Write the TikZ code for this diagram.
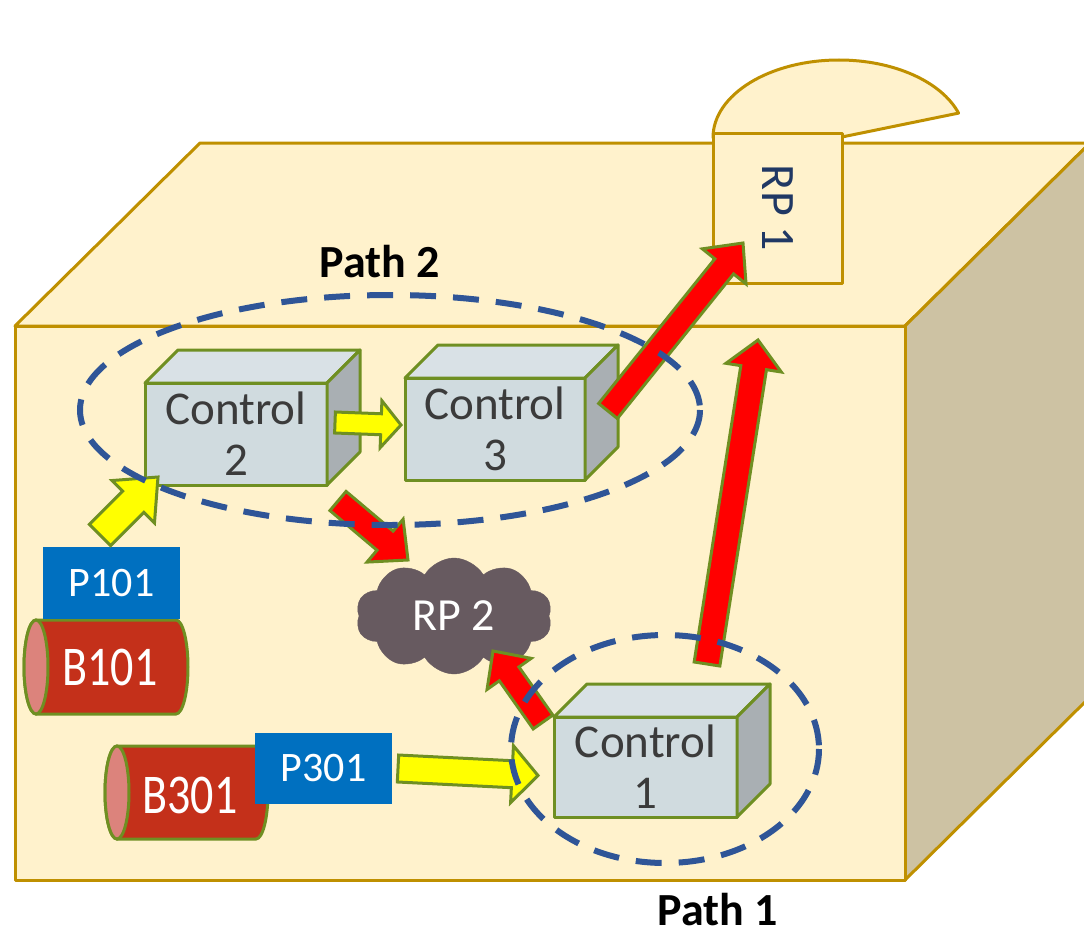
\documentclass[tikz,border=0pt]{standalone}
\usepackage{fontspec}
\usepackage{graphicx}
\setmainfont{Carlito}
\usetikzlibrary{calc,shapes.symbols}

\definecolor{boxcream}{HTML}{FFF2CC}
\definecolor{boxside}{HTML}{CDC2A3}
\definecolor{boxedgec}{HTML}{BF9000}
\definecolor{rpblue}{HTML}{203864}
\definecolor{cubefrontc}{HTML}{D0DBDF}
\definecolor{cubetopc}{HTML}{D9E1E6}
\definecolor{cubesidec}{HTML}{A9AFB3}
\definecolor{leafgreen}{HTML}{6F8F22}
\definecolor{labelgray}{HTML}{3B3B3B}
\definecolor{ringblue}{HTML}{2F5597}
\definecolor{drumred}{HTML}{C4301A}
\definecolor{drumend}{HTML}{DC837C}
\definecolor{tagblue}{HTML}{0070C0}
\definecolor{smoke}{HTML}{675A60}
\definecolor{flowyellow}{HTML}{FFFF00}
\definecolor{flowred}{HTML}{FF0000}

\tikzset{
  boxedge/.style={draw=boxedgec, line width=3pt, line join=round},
  cubeedge/.style={draw=leafgreen, line width=3pt, line join=round},
  cubefront/.style={rectangle, cubeedge, fill=cubefrontc, inner sep=0pt, outer sep=0pt,
    align=center, text=labelgray, font=\fontsize{47}{51}\selectfont},
  arrowedge/.style={draw=leafgreen, line width=3pt, line join=miter},
  drumedge/.style={draw=leafgreen, line width=3pt},
  drumtext/.style={text=white, font=\fontsize{46}{46}\selectfont, inner sep=0pt},
  tag/.style={rectangle, fill=tagblue, text=white, inner sep=0pt, outer sep=0pt,
    font=\fontsize{42}{42}\selectfont},
  ring/.style={draw=ringblue, line width=6pt, dash pattern=on 26pt off 17pt},
  pathlabel/.style={font=\fontsize{46}{46}\selectfont\bfseries, text=black, inner sep=0pt},
}

% block arrow: fill, tail, tip, half shaft width, half head width, head length
\newcommand{\flowarrow}[6]{%
  \coordinate (headbase) at ($(#3)!#6!(#2)$);
  \draw[arrowedge, fill=#1]
    ($(#2)!#4!90:(#3)$) -- ($(headbase)!#4!-90:(#2)$) -- ($(headbase)!#5!-90:(#2)$) -- (#3)
    -- ($(headbase)!#5!90:(#2)$) -- ($(headbase)!#4!90:(#2)$) -- ($(#2)!#4!-90:(#3)$) -- cycle;
}

% control unit drawn as a box: name, centre, width, height, number
\newcommand{\controlcube}[5]{%
  \node[cubefront, minimum width=#3, minimum height=#4] (#1) at (#2) {Control\\#5};
  \draw[cubeedge, fill=cubetopc] (#1.north west) -- ++(33,-33)
    -- ($(#1.north east)+(33,-33)$) -- (#1.north east) -- cycle;
  \draw[cubeedge, fill=cubesidec] (#1.north east) -- ++(33,-33)
    -- ($(#1.south east)+(33,-33)$) -- (#1.south east) -- cycle;
}

% horizontal drum: left, top, right, bottom
\newcommand{\drum}[4]{%
  \draw[drumedge, fill=drumred] ({#1+12},#2) -- ({#3-12},#2)
    arc[start angle=-90, end angle=90, x radius=12, y radius={(#4-#2)/2}]
    -- ({#1+12},#4)
    arc[start angle=90, end angle=270, x radius=12, y radius={(#4-#2)/2}] -- cycle;
  \draw[drumedge, fill=drumend] ({#1+12},{(#2+#4)/2}) ellipse[x radius=12, y radius={(#4-#2)/2}];
}

% tall lettering used on the drums
\newcommand{\tallword}[1]{\scalebox{1}[1.22]{#1}}

\begin{document}
\begin{tikzpicture}[x=1pt, y=-1pt]
\useasboundingbox (0,0) rectangle (1084,934);
\clip (0,0) rectangle (1084,934);

% enclosing building
\draw[boxedge, fill=boxcream] (15,326) -- (200,143) -- (1090,143) -- (905,326) -- cycle;
\draw[boxedge, fill=boxside] (905,326) -- (1090,143) -- (1090,697) -- (905,880) -- cycle;
\draw[boxedge, fill=boxcream] (15,326) rectangle (905,880);

% release point 1 on the roof
\draw[boxedge, fill=boxcream] (713,137.6)
  arc[start angle=180, end angle=341.6, x radius=126, y radius=77.6] -- (839,137.6) -- cycle;
\node[rectangle, boxedge, fill=boxcream, rotate=-90, minimum width=150pt, minimum height=129pt,
  inner sep=0pt, outer sep=0pt, text=rpblue, font=\fontsize{48}{48}\selectfont] (rp1) at (777.5,208) {RP 1};

% control units
\controlcube{ctrl2}{236,434}{182pt}{102pt}{2}
\controlcube{ctrl3}{495,429}{180pt}{102pt}{3}
\controlcube{ctrl1}{645.5,767}{183pt}{100pt}{1}

% drums and their tags
\drum{24}{620}{188}{714}
\node[drumtext] (b101) at (110,667) {\tallword{B101}};
\node[tag, minimum width=137pt, minimum height=72pt] (p101) at (111.5,583) {P101};

\drum{105}{746}{268}{839}
\node[drumtext] (b301) at (190,795) {\tallword{B301}};
\node[tag, minimum width=137pt, minimum height=71pt] (p301) at (323.5,768.5) {P301};

% release point 2
\node[cloud, cloud puffs=10, cloud puff arc=120, aspect=1.7, fill=smoke, draw=smoke,
  minimum width=196pt, minimum height=116pt, inner sep=0pt, text=white,
  font=\fontsize{46}{46}\selectfont] (rp2) at (454,616) {RP 2};

% flows
\coordinate (a1t) at (100,535);   \coordinate (a1h) at (158,477);
\coordinate (a2t) at (335,422.5); \coordinate (a2h) at (401,425);
\coordinate (a3t) at (398,768.5); \coordinate (a3h) at (538,775.5);
\coordinate (a4t) at (608,411);   \coordinate (a4h) at (743,243);
\coordinate (a5t) at (707,664);   \coordinate (a5h) at (758,340);
\coordinate (a6t) at (338,501);   \coordinate (a6h) at (408,560);
\coordinate (a7t) at (543,722);   \coordinate (a7h) at (493,651);

\flowarrow{flowyellow}{a1t}{a1h}{15pt}{30pt}{35pt}
\flowarrow{flowyellow}{a2t}{a2h}{10.5pt}{23.5pt}{20pt}
\flowarrow{flowyellow}{a3t}{a3h}{13.5pt}{28.5pt}{26pt}
\flowarrow{flowred}{a4t}{a4h}{12pt}{28pt}{30pt}
\flowarrow{flowred}{a5t}{a5h}{13pt}{28pt}{28pt}
\flowarrow{flowred}{a6t}{a6h}{12.5pt}{28pt}{30pt}
\flowarrow{flowred}{a7t}{a7h}{12pt}{27pt}{28pt}

% paths
\draw[ring] (390,410) ellipse[x radius=310, y radius=115];
\draw[ring] (665,749) ellipse[x radius=154, y radius=114];
\node[pathlabel] (path2) at (380,262) {Path 2};
\node[pathlabel] (path1) at (718,910) {Path 1};
\end{tikzpicture}
\end{document}
